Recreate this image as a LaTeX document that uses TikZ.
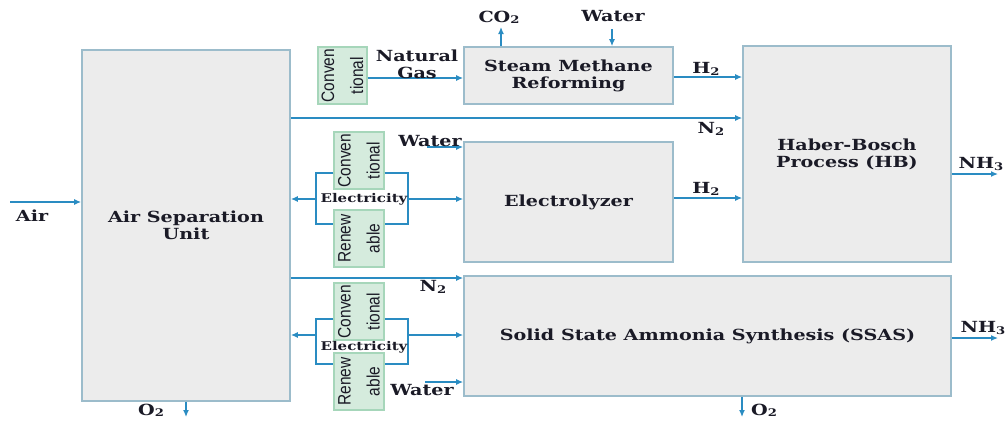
\documentclass[tikz,border=0pt]{standalone}
\usepackage{fontspec}
\usetikzlibrary{arrows.meta}
\newfontfamily\lblfont{DejaVu Serif}[FakeStretch=1.25]
\newfontfamily\narrowfont{Liberation Sans}[FakeStretch=0.86]
\definecolor{boxline}{HTML}{9CBCCB}
\definecolor{boxfill}{HTML}{ECECEC}
\definecolor{gline}{HTML}{A6D6BA}
\definecolor{gfill}{HTML}{D5EBDD}
\definecolor{flowc}{HTML}{2A8CC2}
\definecolor{txt}{HTML}{1A1A26}
\newcommand\mainlbl{\fontsize{15.3}{17}\selectfont\lblfont\bfseries}
\newcommand\eleclbl{\fontsize{12}{14}\selectfont\lblfont\bfseries}
\newcommand\subs[1]{\raisebox{-1.2pt}{\fontsize{10.5}{11}\selectfont #1}}
\newcommand\rottext[2]{\rotatebox{90}{\parbox{55pt}{\centering\fontsize{18}{29}\selectfont\narrowfont #1\\#2}}}
\tikzset{
  box/.style={draw=boxline, fill=boxfill, line width=1.7pt, font=\mainlbl, align=center, text=txt, inner sep=0pt},
  gbox/.style={draw=gline, fill=gfill, line width=1.4pt, inner sep=0pt, minimum width=50pt, minimum height=57pt, text=txt},
  flow/.style={draw=flowc, line width=1.3pt, -{Latex[length=7pt,width=6pt]}},
  link/.style={draw=flowc, line width=1.3pt},
  lbl/.style={font=\mainlbl, text=txt, inner sep=0pt},
  elbl/.style={font=\eleclbl, text=txt, inner sep=1pt},
}
\begin{document}
\begin{tikzpicture}[x=1pt,y=-1pt]
\useasboundingbox (0,0) rectangle (1008,424);
% main boxes
\node[box, minimum width=208pt, minimum height=351pt] (asu) at (186,225.5) {Air Separation\\Unit};
\node[box, minimum width=209pt, minimum height=57pt] (smr) at (568.5,75.5) {Steam Methane\\Reforming};
\node[box, minimum width=209pt, minimum height=120pt] (el) at (568.5,202) {Electrolyzer};
\node[box, minimum width=208pt, minimum height=216pt] (hb) at (847,154) {Haber-Bosch\\Process (HB)};
\node[box, minimum width=487pt, minimum height=120pt] (ssas) at (707.5,336) {Solid State Ammonia Synthesis (SSAS)};
% green source boxes
\node[gbox, minimum width=49pt] (convA) at (342.5,75.5) {\rottext{Conven}{tional}};
\node[gbox] (convB) at (359,160.5) {\rottext{Conven}{tional}};
\node[gbox] (renB) at (359,238.5) {\rottext{Renew}{able}};
\node[gbox] (convC) at (359,311.5) {\rottext{Conven}{tional}};
\node[gbox] (renC) at (359,381.5) {\rottext{Renew}{able}};
% coordinates
\coordinate (airin) at (10,202);
\coordinate (o2a) at (186,417);
\coordinate (co2) at (501,27);
\coordinate (wtop) at (612,29);
\coordinate (ng) at (0,78);
\coordinate (h2a) at (0,77);
\coordinate (n2a) at (0,118);
\coordinate (wel) at (427,147);
\coordinate (h2b) at (0,198);
\coordinate (nh3a) at (998,174);
\coordinate (mbl) at (316,199);
\coordinate (mbr) at (408,199);
\coordinate (n2b) at (0,278);
\coordinate (lbl) at (316,335);
\coordinate (lbr) at (408,335);
\coordinate (wss) at (425,382);
\coordinate (nh3b) at (998,338);
\coordinate (o2b) at (742,417);
% connectors
\draw[flow] (airin) -- (airin -| asu.west);
\draw[flow] (asu.south) -- (o2a);
\draw[flow] (co2 |- smr.north) -- (co2);
\draw[flow] (wtop) -- (wtop |- smr.north);
\draw[flow] (convA.east |- ng) -- (smr.west |- ng);
\draw[flow] (smr.east |- h2a) -- (hb.west |- h2a);
\draw[flow] (asu.east |- n2a) -- (hb.west |- n2a);
\draw[flow] (wel) -- (wel -| el.west);
\draw[flow] (el.east |- h2b) -- (hb.west |- h2b);
\draw[flow] (hb.east |- nh3a) -- (nh3a);
\draw[link] (convB.west |- 0,173) -| (mbl) |- (renB.west |- 0,224);
\draw[link] (convB.east |- 0,173) -| (mbr) |- (renB.east |- 0,224);
\draw[flow] (mbl) -- (mbl -| asu.east);
\draw[flow] (mbr) -- (mbr -| el.west);
\draw[flow] (asu.east |- n2b) -- (ssas.west |- n2b);
\draw[link] (convC.west |- 0,319) -| (lbl) |- (renC.west |- 0,364);
\draw[link] (convC.east |- 0,319) -| (lbr) |- (renC.east |- 0,364);
\draw[flow] (lbl) -- (lbl -| asu.east);
\draw[flow] (lbr) -- (lbr -| ssas.west);
\draw[flow] (wss) -- (wss -| ssas.west);
\draw[flow] (ssas.east |- nh3b) -- (nh3b);
\draw[flow] (o2b |- ssas.south) -- (o2b);
% labels
\node[lbl] (tair) at (32,216) {Air};
\node[lbl] (to2a) at (151,410) {O\subs{2}};
\node[lbl] (tco2) at (499,17) {CO\subs{2}};
\node[lbl] (twtop) at (613,16) {Water};
\node[lbl, align=center] (tng) at (417,64) {Natural\\Gas};
\node[lbl] (th2a) at (706,69) {H\subs{2}};
\node[lbl] (tn2a) at (711,129) {N\subs{2}};
\node[lbl] (twel) at (430,141) {Water};
\node[lbl] (th2b) at (706,189) {H\subs{2}};
\node[lbl] (tnh3a) at (981,164) {NH\subs{3}};
\node[elbl] (telec1) at (364,199) {Electricity};
\node[lbl] (tn2b) at (433,287) {N\subs{2}};
\node[elbl] (telec2) at (364,347) {Electricity};
\node[lbl] (twss) at (422,390) {Water};
\node[lbl] (tnh3b) at (983,328) {NH\subs{3}};
\node[lbl] (to2b) at (764,410) {O\subs{2}};
\end{tikzpicture}
\end{document}
